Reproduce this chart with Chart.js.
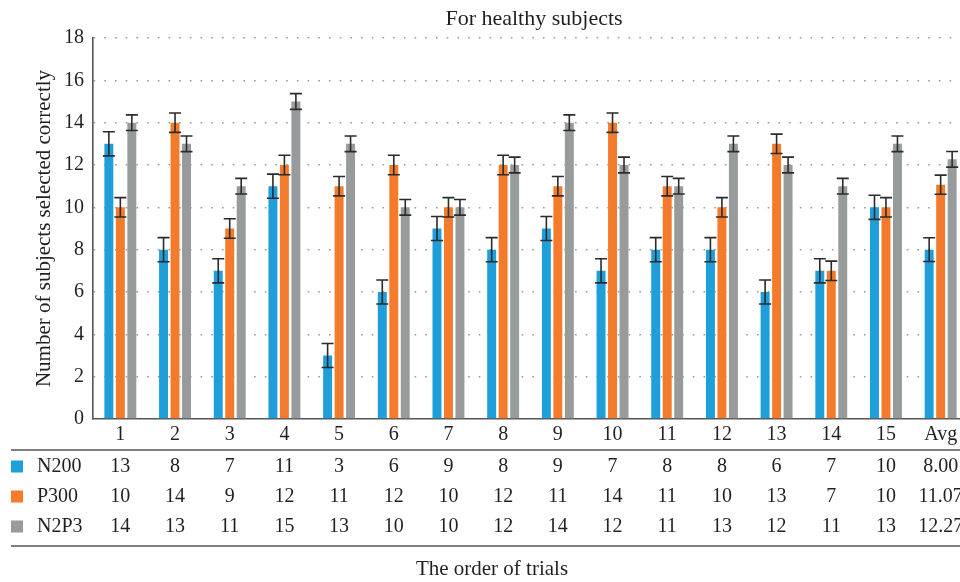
<!DOCTYPE html>
<html>
<head>
<meta charset="utf-8">
<script src="https://cdn.jsdelivr.net/npm/chart.js@4.4.0/dist/chart.umd.min.js"></script>
<style>
    html, body { margin: 0; padding: 0; overflow: hidden; background: #fff; }
    #wrap { width: 976px; height: 582px; }
</style>
</head>
<body>
<div id="wrap"><canvas id="chart" width="976" height="582"></canvas></div>
<script>
// Data
const trials = ['1', '2', '3', '4', '5', '6', '7', '8', '9', '10', '11', '12', '13', '14', '15', 'Avg'];
const n200 = [13, 8, 7, 11, 3, 6, 9, 8, 9, 7, 8, 8, 6, 7, 10, 8.00];
const p300 = [10, 14, 9, 12, 11, 12, 10, 12, 11, 14, 11, 10, 13, 7, 10, 11.07];
const n2p3 = [14, 13, 11, 15, 13, 10, 10, 12, 14, 12, 11, 13, 12, 11, 13, 12.27];
// half-length of the error bars (estimated)
const n200Err = [0.57, 0.57, 0.57, 0.57, 0.57, 0.57, 0.57, 0.57, 0.57, 0.57, 0.57, 0.57, 0.57, 0.57, 0.57, 0.56];
const p300Err = [0.46, 0.46, 0.46, 0.46, 0.46, 0.46, 0.46, 0.46, 0.46, 0.46, 0.46, 0.46, 0.46, 0.46, 0.46, 0.45];
const n2p3Err = [0.37, 0.37, 0.37, 0.37, 0.37, 0.37, 0.37, 0.37, 0.37, 0.37, 0.37, 0.37, 0.37, 0.37, 0.37, 0.37];
const yTicks = [0, 2, 4, 6, 8, 10, 12, 14, 16, 18];

const seriesNames = ['N200', 'P300', 'N2P3'];
const seriesColors = ['#1e9fd9', '#f47b2b', '#989b9b'];
const seriesErrors = [n200Err, p300Err, n2p3Err];

const FONT = "'Liberation Serif', 'DejaVu Serif', serif";
const TEXT = '#231f20';
const LINE = '#555555';

function fmt(v, i) {
    return i === trials.length - 1 ? v.toFixed(2) : String(v);
}

// error bars on top of each bar
const errorBars = {
    id: 'errorBars',
    afterDatasetsDraw(chart) {
        const ctx = chart.ctx;
        const y = chart.scales.y;
        ctx.save();
        ctx.strokeStyle = '#2b2b2b';
        ctx.lineWidth = 1.6;
        chart.data.datasets.forEach((ds, d) => {
            const meta = chart.getDatasetMeta(d);
            meta.data.forEach((bar, i) => {
                const err = seriesErrors[d][i];
                const top = y.getPixelForValue(ds.data[i] + err);
                const bot = y.getPixelForValue(ds.data[i] - err);
                ctx.beginPath();
                ctx.moveTo(bar.x, top);
                ctx.lineTo(bar.x, bot);
                ctx.moveTo(bar.x - 6, top);
                ctx.lineTo(bar.x + 6, top);
                ctx.moveTo(bar.x - 6, bot);
                ctx.lineTo(bar.x + 6, bot);
                ctx.stroke();
            });
        });
        ctx.restore();
    }
};

// data table under the axis, plus titles
const dataTable = {
    id: 'dataTable',
    afterDraw(chart) {
        const ctx = chart.ctx;
        const area = chart.chartArea;
        const x = chart.scales.x;
        const w = chart.width;
        ctx.save();
        ctx.strokeStyle = LINE;
        ctx.lineWidth = 1.6;
        const lineTop = area.bottom + 31;
        const lineBot = area.bottom + 127;
        ctx.beginPath();
        ctx.moveTo(11, lineTop);
        ctx.lineTo(w, lineTop);
        ctx.moveTo(11, lineBot);
        ctx.lineTo(w, lineBot);
        ctx.stroke();

        ctx.font = '20px ' + FONT;
        ctx.fillStyle = TEXT;
        ctx.textBaseline = 'middle';
        const rows = [n200, p300, n2p3];
        rows.forEach((vals, r) => {
            const cy = area.bottom + 47.5 + r * 30;
            ctx.fillStyle = seriesColors[r];
            ctx.fillRect(11, cy - 6, 12, 12);
            ctx.fillStyle = TEXT;
            ctx.textAlign = 'left';
            ctx.fillText(seriesNames[r], 37, cy);
            ctx.textAlign = 'center';
            vals.forEach((v, i) => {
                ctx.fillText(fmt(v, i), x.getPixelForValue(i), cy);
            });
        });

        ctx.textAlign = 'center';
        ctx.textBaseline = 'alphabetic';
        ctx.font = '21px ' + FONT;
        ctx.fillText('The order of trials', 492, 575);
        ctx.font = '22px ' + FONT;
        ctx.fillText('For healthy subjects', 534, 25);
        ctx.restore();
    }
};

new Chart(document.getElementById('chart'), {
    type: 'bar',
    data: {
        labels: trials,
        datasets: [
            { label: seriesNames[0], data: n200, backgroundColor: seriesColors[0] },
            { label: seriesNames[1], data: p300, backgroundColor: seriesColors[1] },
            { label: seriesNames[2], data: n2p3, backgroundColor: seriesColors[2] }
        ]
    },
    options: {
        responsive: false,
        animation: false,
        layout: { padding: { top: 38, right: 8, bottom: 133, left: 0 } },
        datasets: {
            bar: { categoryPercentage: 0.63, barPercentage: 0.78 }
        },
        plugins: {
            legend: { display: false },
            title: { display: false },
            tooltip: { enabled: false }
        },
        scales: {
            x: {
                grid: { display: false },
                border: { display: true, color: LINE, width: 1.6 },
                ticks: { color: TEXT, font: { family: FONT, size: 20 }, padding: -4, maxRotation: 0 },
                afterFit(scale) { scale.height = 30; }
            },
            y: {
                min: 0,
                max: 18,
                afterBuildTicks(scale) { scale.ticks = yTicks.map(v => ({ value: v })); },
                grid: {
                    color: ctx => ctx.tick && ctx.tick.value === 0 ? 'rgba(0,0,0,0)' : '#9a9a9a',
                    lineWidth: 1.6,
                    drawTicks: false
                },
                border: { display: true, color: LINE, width: 1.6, dash: [1.6, 9.1] },
                ticks: { color: TEXT, font: { family: FONT, size: 20 }, padding: 9 },
                title: {
                    display: true,
                    text: 'Number of subjects selected correctly',
                    color: TEXT,
                    font: { family: FONT, size: 21 },
                    padding: { top: 32, bottom: 0 }
                },
                afterFit(scale) { scale.width = 93; }
            }
        }
    },
    plugins: [errorBars, dataTable]
});
</script>
</body>
</html>
